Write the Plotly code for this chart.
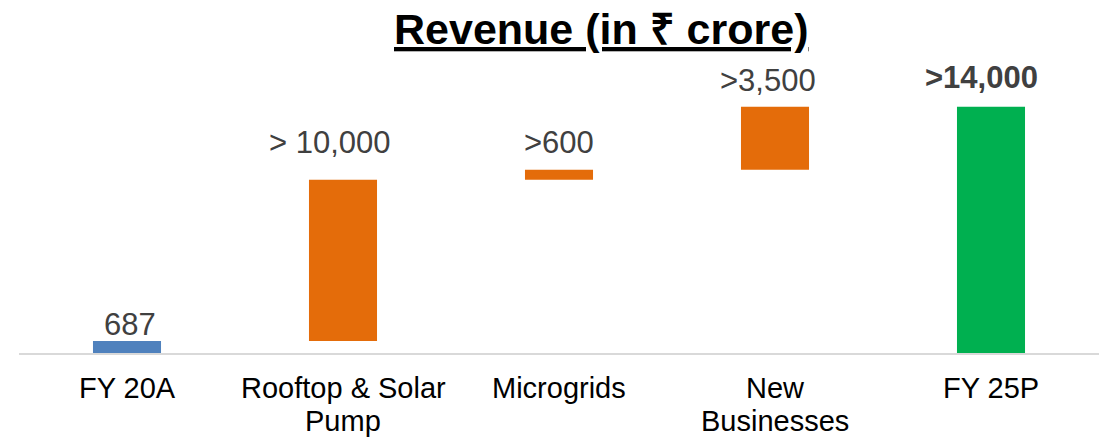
import plotly.graph_objects as go

categories = ["FY 20A", "Rooftop & Solar Pump", "Microgrids", "New Businesses", "FY 25P"]
tick_lines = [["FY 20A"], ["Rooftop & Solar", "Pump"], ["Microgrids"], ["New", "Businesses"], ["FY 25P"]]
bar_base = [0, 687, 9850, 10410, 0]
bar_top = [687, 9850, 10410, 14000, 14000]
value_labels = ["687", "> 10,000", ">600", ">3,500", "<b>>14,000</b>"]
bar_colors = ["#4F81BD", "#E46C0A", "#E46C0A", "#E46C0A", "#00B050"]

# label placement tweaks (pixels)
label_dy = [16, 37, 27, 26, 29]
label_dx = [3, -13, 0, -7, -10]

heights = [t - b for t, b in zip(bar_top, bar_base)]

FONT = "Liberation Sans, Arial"

fig = go.Figure()
fig.add_trace(go.Bar(
    x=categories, y=heights, base=bar_base,
    marker=dict(color=bar_colors, line=dict(width=0)),
    hoverinfo="skip", showlegend=False,
))

for cat, top, lab, dy, dx in zip(categories, bar_top, value_labels, label_dy, label_dx):
    fig.add_annotation(
        x=cat, y=top, xref="x", yref="y", text=lab, showarrow=False,
        xanchor="center", yanchor="middle", yshift=dy, xshift=dx,
        font=dict(family=FONT, size=31, color="#404040"),
    )

# category labels (two-line labels need tighter line spacing than ticks allow)
for cat, lines in zip(categories, tick_lines):
    for i, line in enumerate(lines):
        fig.add_annotation(
            x=cat, y=0, xref="x", yref="paper", text=line, showarrow=False,
            xanchor="center", yanchor="top", yshift=-17 - 33 * i,
            font=dict(family=FONT, size=29, color="#000000"),
        )

fig.add_annotation(
    x=0.539, y=1, xref="paper", yref="paper", xanchor="center", yanchor="top",
    yshift=17, showarrow=False,
    text="<b><u>Revenue (in ₹ crore)</u></b>",
    font=dict(family=FONT, size=43, color="#000000"),
)

ymax = 14000 * (437 - 20 - 84) / 246.3

fig.update_layout(
    width=1102, height=437,
    margin=dict(l=19, r=3, t=20, b=84),
    paper_bgcolor="white", plot_bgcolor="white",
    bargap=0.685,
    hovermode=False,
    xaxis=dict(
        showline=True, linecolor="#D9D9D9", linewidth=2,
        showgrid=False, ticks="", zeroline=False, showticklabels=False,
    ),
    yaxis=dict(range=[0, ymax], visible=False, showgrid=False, zeroline=False),
)

fig.write_html(
    "out.html",
    config={"displayModeBar": False, "staticPlot": True},
    post_script=(
        "document.body.style.margin='0';document.body.style.overflow='hidden';"
        "var s=document.createElement('style');"
        "s.textContent='text, tspan {text-decoration-skip-ink: none !important;}';"
        "document.head.appendChild(s);"
    ),
)
